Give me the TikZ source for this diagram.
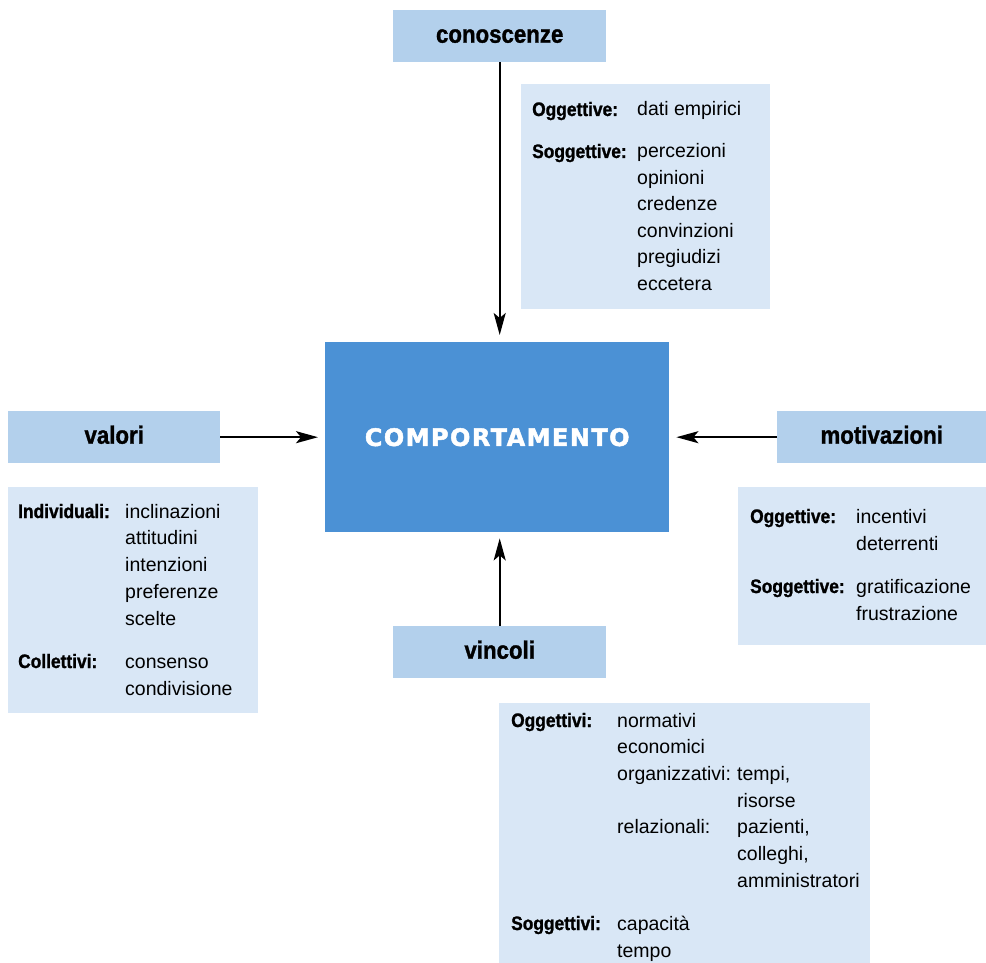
\documentclass[tikz,border=0pt]{standalone}
\usepackage{fontspec}
\setmainfont{Liberation Sans}[BoldFeatures={FakeStretch=0.89,FakeBold=1.2}]
\newfontfamily\compfont{DejaVu Sans}[BoldFeatures={LetterSpace=6,FakeBold=2}]
\usetikzlibrary{arrows.meta}
\definecolor{coreblue}{RGB}{75,145,213}
\definecolor{hdrblue}{RGB}{179,208,236}
\definecolor{detblue}{RGB}{217,231,246}
\tikzset{
  hdr/.style={fill=hdrblue, draw=none, anchor=north west, inner sep=0pt,
    font=\bfseries\fontsize{25}{30}\selectfont, text height=13pt, text depth=0pt},
  det/.style={fill=detblue, draw=none, anchor=north west, inner sep=0pt},
  core/.style={fill=coreblue, draw=none, anchor=north west, inner sep=0pt,
    text=white, font=\compfont\bfseries\fontsize{24}{28}\selectfont},
  lbl/.style={anchor=base west, inner sep=0pt, font=\bfseries\fontsize{19.5}{24}\selectfont},
  itm/.style={anchor=base west, inner sep=0pt, font=\fontsize{19.5}{24}\selectfont},
  arr/.style={line width=2pt, -{Stealth[length=22pt,width=12pt,inset=5pt]}}
}
\begin{document}
\begin{tikzpicture}[x=1pt,y=-1pt]
\useasboundingbox (0,0) rectangle (986,963);
% boxes
\node[core, minimum width=344pt, minimum height=190pt] (comp) at (325,342) {COMPORTAMENTO};
\node[hdr, minimum width=213pt, minimum height=52pt] (conH) at (393,10) {conoscenze};
\node[hdr, minimum width=212pt, minimum height=52pt] (valH) at (8,411) {valori};
\node[hdr, minimum width=209pt, minimum height=52pt] (motH) at (777,411) {motivazioni};
\node[hdr, minimum width=213pt, minimum height=52pt] (vinH) at (393,626) {vincoli};
\node[det, minimum width=249pt, minimum height=225pt] (conD) at (521,84) {};
\node[det, minimum width=250pt, minimum height=226pt] (valD) at (8,487) {};
\node[det, minimum width=248pt, minimum height=158pt] (motD) at (738,487) {};
\node[det, minimum width=371pt, minimum height=260pt] (vinD) at (499,703) {};
% arrows
\draw[arr, shorten >=7pt] (conH.south) -- (conH.south |- comp.north);
\draw[arr, shorten >=6pt] (vinH.north) -- (vinH.north |- comp.south);
\draw[arr, shorten >=7pt] (valH.east) -- (valH.east -| comp.west);
\draw[arr, shorten >=7pt] (motH.west) -- (motH.west -| comp.east);
% conoscenze
\node[lbl] (co1) at (532,116) {Oggettive:};
\node[itm] (co2) at (637,116) {dati empirici};
\node[lbl] (co3) at (532,158) {Soggettive:};
\foreach \t [count=\i] in {percezioni,opinioni,credenze,convinzioni,pregiudizi,eccetera}
  \node[itm] (cs\i) at (637,{158+26.4*(\i-1)}) {\t};
% valori
\node[lbl] (va1) at (18,518) {Individuali:};
\foreach \t [count=\i] in {inclinazioni,attitudini,intenzioni,preferenze,scelte}
  \node[itm] (vi\i) at (125,{518+26.75*(\i-1)}) {\t};
\node[lbl] (va2) at (18,668) {Collettivi:};
\node[itm] (vc1) at (125,668) {consenso};
\node[itm] (vc2) at (125,695) {condivisione};
% motivazioni
\node[lbl] (mo1) at (750,523) {Oggettive:};
\node[itm] (mi1) at (856,523) {incentivi};
\node[itm] (mi2) at (856,550) {deterrenti};
\node[lbl] (mo2) at (750,593) {Soggettive:};
\node[itm] (ms1) at (856,593) {gratificazione};
\node[itm] (ms2) at (856,620) {frustrazione};
% vincoli
\node[lbl] (vn1) at (511,727) {Oggettivi:};
\node[itm] (vo1) at (617,727) {normativi};
\node[itm] (vo2) at (617,753) {economici};
\node[itm] (vo3) at (617,780) {organizzativi:};
\node[itm] (vo4) at (737,780) {tempi,};
\node[itm] (vo5) at (737,807) {risorse};
\node[itm] (vo6) at (617,833) {relazionali:};
\node[itm] (vo7) at (737,833) {pazienti,};
\node[itm] (vo8) at (737,860) {colleghi,};
\node[itm] (vo9) at (737,887) {amministratori};
\node[lbl] (vn2) at (511,930) {Soggettivi:};
\node[itm] (vs1) at (617,930) {capacità};
\node[itm] (vs2) at (617,957) {tempo};
\end{tikzpicture}
\end{document}
